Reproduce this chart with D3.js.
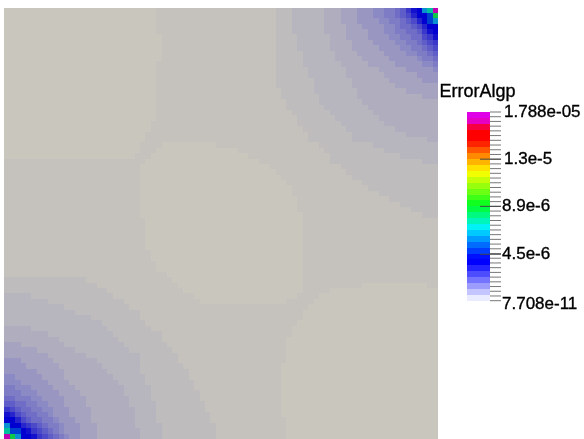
<!DOCTYPE html>
<html>
<head>
<meta charset="utf-8">
<script src="https://cdn.jsdelivr.net/npm/d3@7"></script>
<style>
html,body{margin:0;padding:0;background:#fff;overflow:hidden}
svg{display:block;filter:blur(.45px)}
text{font-family:"Liberation Sans",Arial,sans-serif;fill:#000;stroke:#000;stroke-width:.35px}
</style>
</head>
<body>
<svg id="chart" width="584" height="439"></svg>
<script>
// ---- data ----
const fieldName = "ErrorAlgp";
const minValue = 7.708e-11;
const maxValue = 1.788e-5;
const gridSize = 80;

// cell classes and the value each stands for
const levelKeys = "abcdefghijklmnopqrstu".split("");
const levelValues = [4e-8,1.2e-7,2.5e-7,4e-7,6e-7,8e-7,1e-6,1.2e-6,1.4e-6,1.6e-6,1.8e-6,2e-6,2.2e-6,2.4e-6,2.6e-6,3e-6,4.4e-6,5.5e-6,7.2e-6,8.9e-6,1.788e-5];
const shadedColors = ["#c9c7bd","#c5c2bd","#bebcbc","#b7b5bd","#afadbe","#a5a3c0","#9997c2","#8c8ac4","#7e7cc5","#6f6dc6","#5f5dc7","#4c4ac8","#3a38ca","#2624cc","#1311ce","#0000d0","#0040d0","#0890d0","#00c0a0","#10c848","#c000b0"];

// rows of the high-error corner, read outward from the corner cell
const cornerRows = [
"usrpomkjiihhgggfffeeeddddddccc",
"tqppnlkjiihhgggfffeeeddddddccc",
"rqpnlkjiihhggggfffeeeddddddccc",
"ppnlkjjihhggggfffeeeeddddddccc",
"pomkjjiihhgggffffeeeeddddddccc",
"omljjiihhggggffffeeeddddddcccc",
"mlkjiihhggggffffeeeeddddddcccc",
"lkjiihhggggfffffeeeeddddddcccc",
"kjiihhggggfffffeeeeddddddccccc",
"jiihgggggfffffeeeeeddddddccccc",
"ihhgggggfffffeeeeedddddddccccc",
"hgggggfffffeeeeeedddddddcccccc",
"ggggffffffeeeeeeedddddddcccccc",
"gggffffffeeeeeeedddddddccccccc",
"ffffffffeeeeeeeedddddddccccccc",
"ffffffeeeeeeeeeddddddddcccccc",
"fffeeeeeeeeeeeedddddddccccccc",
"eeeeeeeeeeeeeeddddddddcccccc",
"eeeeeeeeeeeeeddddddddccccccc",
"eeeeeeeeeeeeddddddddccccccc",
"eeeeeeeeeeeddddddddccccccc",
"eeeeeeeeeeddddddddcccccccc",
"eeeeeeeedddddddddcccccccc",
"eeeeeeddddddddddcccccccc",
"eeddddddddddddddcccccccc",
"ddddddddddddcccccccccc",
"ddddddddddccccccccccc",
"dddddddccccccccccccc",
"dddccccccccccccccccc",
"cccccccccccccccccc",
"ccccccccccccccccc",
"cccccccccccccccc",
"cccccccccccccc",
"ccccccccccccc",
"ccccccccccc",
"ccccccccc",
"ccccccc",
"ccccc",
"ccc"
];

// lightest plateaus: [row from top, first column, column after last]
const plateauTopLeft = [[0,0,28],[1,0,28],[2,0,28],[3,0,28],[4,0,28],[5,0,29],[6,0,29],[7,0,29],[8,0,29],[9,0,29],[10,0,28],[11,0,28],[12,0,28],[13,0,28],[14,0,28],[15,0,28],[16,0,28],[17,0,28],[18,0,28],[19,0,28],[20,0,28],[21,0,27],[22,0,27],[23,0,26],[24,0,26],[25,0,25],[26,0,25],[27,0,24]];
const plateauCentre = [[25,29,39],[26,28,43],[27,27,45],[28,26,47],[29,25,49],[30,25,50],[31,25,51],[32,25,52],[33,25,53],[34,25,53],[35,25,54],[36,25,54],[37,25,54],[38,25,55],[39,26,55],[40,26,55],[41,26,55],[42,26,55],[43,26,55],[44,26,55],[45,27,55],[46,27,55],[47,28,55],[48,28,55],[49,30,55],[50,31,55],[51,32,55],[52,33,55],[53,35,54],[54,36,52]];
const plateauBottomRight = [[51,66,78],[52,60,80],[53,58,80],[54,57,80],[55,56,80],[56,55,80],[57,55,80],[58,54,80],[59,53,80],[60,53,80],[61,52,80],[62,52,80],[63,52,80],[64,52,80],[65,52,80],[66,51,80],[67,51,80],[68,51,80],[69,51,80],[70,51,80],[71,51,80],[72,51,80],[73,51,80],[74,51,80],[75,51,80],[76,52,80],[77,52,80],[78,52,80],[79,52,80]];

// colour bar
const barStopValues = [7.708e-11,3.6e-6,4.0e-6,6.9e-6,9.0e-6,1.22e-5,1.38e-5,1.52e-5,1.62e-5,1.72e-5,1.788e-5];
const barStopColors = ["#ffffff","#0000ff","#0000ff","#00f0ff","#00ff20","#ffff00","#ff8000","#ff0000","#ff0000","#e000e8","#e000e8"];
const barBandCount = 32;
const minorTickCount = 40;
const majorTickValues = [1.341e-5,8.94e-6,4.4e-6];
const majorTickLabels = ["1.3e-5","8.9e-6","4.5e-6"];
const endLabels = ["1.788e-05","7.708e-11"];

// ---- assemble the grid ----
const grid = d3.range(gridSize).map(() => d3.range(gridSize).map(() => "b"));
[plateauTopLeft, plateauCentre, plateauBottomRight].forEach(list =>
  list.forEach(([r,c0,c1]) => { for (let c=c0;c<c1;c++) grid[r][c]="a"; }));
cornerRows.forEach((row,outer) => row.split("").forEach((k,inner) => {
  grid[outer][gridSize-1-inner] = k;              // top right corner
  grid[gridSize-1-inner][outer] = k;              // bottom left corner, mirrored
}));
const cells = [];
grid.forEach((row,r) => row.forEach((k,c) => cells.push({r,c,v:levelValues[levelKeys.indexOf(k)]})));

// ---- scales ----
const x = d3.scaleBand().domain(d3.range(gridSize)).range([4.3,438.3]);
const y = d3.scaleBand().domain(d3.range(gridSize)).range([7.5,439]);
const shade = d3.scaleLinear().domain(levelValues).range(shadedColors);
const barY = d3.scaleLinear().domain([minValue,maxValue]).range([300.7,112]);
const barColor = d3.scaleLinear().domain(barStopValues).range(barStopColors);

const svg = d3.select("#chart");
const snap = Math.round;

svg.append("g").attr("shape-rendering","crispEdges").selectAll("rect").data(cells).join("rect")
  .attr("x",d=>snap(x(d.c))).attr("y",d=>snap(y(d.r)))
  .attr("width",d=>snap(x(d.c)+x.bandwidth())-snap(x(d.c)))
  .attr("height",d=>snap(y(d.r)+y.bandwidth())-snap(y(d.r)))
  .attr("fill",d=>shade(d.v));

// colour bar bands
const step = (maxValue-minValue)/barBandCount;
const bands = d3.range(barBandCount).map(i=>({lo:minValue+i*step,hi:minValue+(i+1)*step}));
const bar = svg.append("g").attr("shape-rendering","crispEdges");
bar.selectAll("rect").data(bands).join("rect")
  .attr("x",467).attr("width",23)
  .attr("y",d=>snap(barY(d.hi))).attr("height",d=>snap(barY(d.lo))-snap(barY(d.hi)))
  .attr("fill",d=>barColor((d.lo+d.hi)/2));

// minor ticks
const tickStep=(maxValue-minValue)/minorTickCount;
svg.append("g").selectAll("line").data(d3.range(minorTickCount+1).map(i=>minValue+i*tickStep)).join("line")
  .attr("x1",490).attr("x2",501)
  .attr("y1",d=>barY(d)).attr("y2",d=>barY(d))
  .attr("stroke","#777").attr("stroke-width",1);

// major ticks
svg.append("g").selectAll("line").data(majorTickValues).join("line")
  .attr("x1",480).attr("x2",501)
  .attr("y1",d=>barY(d)).attr("y2",d=>barY(d))
  .attr("stroke","#444").attr("stroke-width",1);

// labels
svg.append("text").attr("x",439.5).attr("y",96.5).attr("font-size",18).text(fieldName);
const labelRows = [
  {t:endLabels[0],x:504,v:maxValue,dy:-1.5},
  ...majorTickLabels.map((t,i)=>({t,x:i===0?504:502,v:majorTickValues[i],dy:-1})),
  {t:endLabels[1],x:502,v:minValue,dy:2}
];
svg.append("g").selectAll("text").data(labelRows).join("text")
  .attr("x",d=>d.x).attr("y",d=>barY(d.v)+d.dy+6)
  .attr("font-size",17).text(d=>d.t);
</script>
</body>
</html>
